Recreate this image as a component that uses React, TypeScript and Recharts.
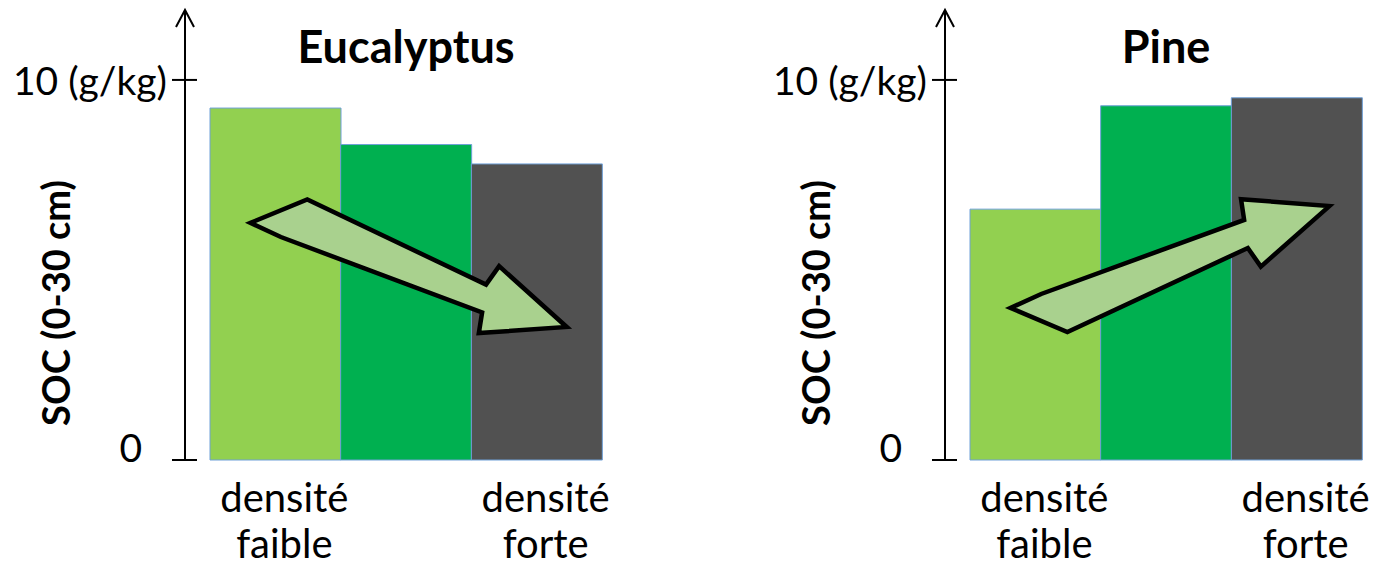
import React from "react";
import {
  BarChart,
  Bar,
  XAxis,
  YAxis,
  Cell,
  ReferenceLine,
} from "recharts";

const categories = ["faible", "moyenne", "forte"];
const categoryLabels = [["densité", "faible"], [], ["densité", "forte"]];
const panelTitles = ["Eucalyptus", "Pine"];
const eucalyptusSoc = [9.26, 8.3, 7.79];
const pineSoc = [6.6, 9.32, 9.53];
const barColors = ["#92d050", "#00b050", "#515151"];
const yTicks = [0, 10];
const yTickLabels = ["0", "10 (g/kg)"];
const yAxisLabel = "SOC (0-30 cm)";
// trend arrows: [x start, y start, x end, y end], x on a 0..3 band scale
const eucalyptusTrend = [0.31, 6.24, 2.73, 3.5];
const pineTrend = [0.31, 4.0, 2.75, 6.68];

const FONT = "Lato, 'Open Sans', sans-serif";

// outline of the drawn block arrow, along (u) and across (v) its length
const arrowOutline = [
  [0, 0],
  [0.14, -0.12],
  [0.73, -0.045],
  [0.75, -0.11],
  [1, 0],
  [0.755, 0.1],
  [0.745, 0.038],
  [0.1, 0.012],
];

function TrendArrow(props: any) {
  const { x1, y1, x2, y2 } = props;
  const dx = x2 - x1;
  const dy = y2 - y1;
  const len = Math.sqrt(dx * dx + dy * dy);
  if (!len) return null;
  const ux = dx / len;
  const uy = dy / len;
  const flip = y2 < y1 ? -1 : 1;
  const pts = arrowOutline.map(([u, v]) => {
    const vv = v * flip * len;
    const uu = u * len;
    return [x1 + ux * uu - uy * vv, y1 + uy * uu + ux * vv];
  });
  const d = pts.map((p, i) => (i === 0 ? "M" : "L") + p[0] + "," + p[1]).join(" ") + " Z";
  return <path d={d} fill="#a9d18e" stroke="#000" strokeWidth={4.5} strokeLinejoin="miter" />;
}

function YTick(props: any) {
  const { x, y, payload } = props;
  const label = yTickLabels[yTicks.indexOf(payload.value)];
  const isZero = payload.value === 0;
  return (
    <g>
      <line x1={x - 13} x2={x + 12} y1={y} y2={y} stroke="#000" strokeWidth={2} />
      <text
        x={isZero ? x - 43 : x - 18}
        y={y + (isZero ? 2 : 15)}
        textAnchor="end"
        fontFamily={FONT}
        fontSize={39}
        fill="#000"
      >
        {label}
      </text>
    </g>
  );
}

function XTick(props: any) {
  const { x, y, payload } = props;
  const lines = categoryLabels[categories.indexOf(payload.value)] || [];
  return (
    <text textAnchor="middle" fontFamily={FONT} fontSize={40} fill="#000">
      {lines.map((l, i) => (
        <tspan key={i} x={x + 9} y={y + 52 + i * 46}>
          {l}
        </tspan>
      ))}
    </text>
  );
}

function Panel({ id, title, values, trend, width, marginRight }: any) {
  const data = categories.map((c, i) => ({ category: c, soc: values[i], pos: i + 0.5 }));
  return (
    <BarChart
      width={width}
      height={567}
      data={data}
      margin={{ top: 10, right: marginRight, left: 0, bottom: 0 }}
      barCategoryGap={0}
      barGap={0}
    >
      <defs>
        <marker
          id={"yArrow" + id}
          markerUnits="userSpaceOnUse"
          markerWidth={20}
          markerHeight={20}
          refX={10}
          refY={1}
          overflow="visible"
        >
          <path d="M1,18 L10,1 L19,18" fill="none" stroke="#000" strokeWidth={2} />
        </marker>
      </defs>
      <XAxis
        dataKey="category"
        height={107}
        padding={{ left: 25, right: 0 }}
        axisLine={false}
        tickLine={false}
        tickSize={0}
        tickMargin={0}
        interval={0}
        tick={<XTick />}
      />
      <XAxis
        xAxisId="trend"
        dataKey="pos"
        type="number"
        domain={[0, 3]}
        allowDataOverflow
        padding={{ left: 25, right: 0 }}
        hide
      />
      <YAxis
        width={185}
        domain={[0, 11.84]}
        ticks={yTicks}
        tickLine={false}
        tickSize={0}
        tickMargin={0}
        tick={<YTick />}
        axisLine={{ stroke: "#000", strokeWidth: 2, markerStart: "url(#yArrow" + id + ")" }}
        label={{
          content: ({ viewBox }: any) => {
            const cx = viewBox.x + 55;
            const cy = viewBox.y + 293;
            return (
              <text
                x={cx}
                y={cy}
                transform={`rotate(-90 ${cx} ${cy})`}
                textAnchor="middle"
                dominantBaseline="central"
                fontFamily={FONT}
                fontWeight="bold"
                fontSize={38}
                fill="#000"
              >
                {yAxisLabel}
              </text>
            );
          },
        }}
      />
      <Bar dataKey="soc" isAnimationActive={false} stroke="#6fa0d8" strokeWidth={1}>
        {data.map((_, i) => (
          <Cell key={i} fill={barColors[i]} />
        ))}
      </Bar>
      <ReferenceLine
        xAxisId="trend"
        x={1.5}
        stroke="none"
        ifOverflow="visible"
        label={{
          content: ({ viewBox }: any) => (
            <text
              x={viewBox.x}
              y={viewBox.y + 53}
              textAnchor="middle"
              fontFamily={FONT}
              fontWeight="bold"
              fontSize={45}
              fill="#000"
            >
              {title}
            </text>
          ),
        }}
      />
      <ReferenceLine
        xAxisId="trend"
        segment={[
          { x: trend[0], y: trend[1] },
          { x: trend[2], y: trend[3] },
        ]}
        ifOverflow="visible"
        shape={(p: any) => <TrendArrow {...p} />}
      />
    </BarChart>
  );
}

export default function App() {
  return (
    <div
      style={{
        position: "absolute",
        left: 0,
        top: 0,
        width: 1373,
        height: 567,
        display: "flex",
        background: "#fff",
        overflow: "hidden",
      }}
    >
      <Panel id="e" title={panelTitles[0]} values={eucalyptusSoc} trend={eucalyptusTrend} width={760} marginRight={158} />
      <Panel id="p" title={panelTitles[1]} values={pineSoc} trend={pineTrend} width={613} marginRight={11} />
    </div>
  );
}
